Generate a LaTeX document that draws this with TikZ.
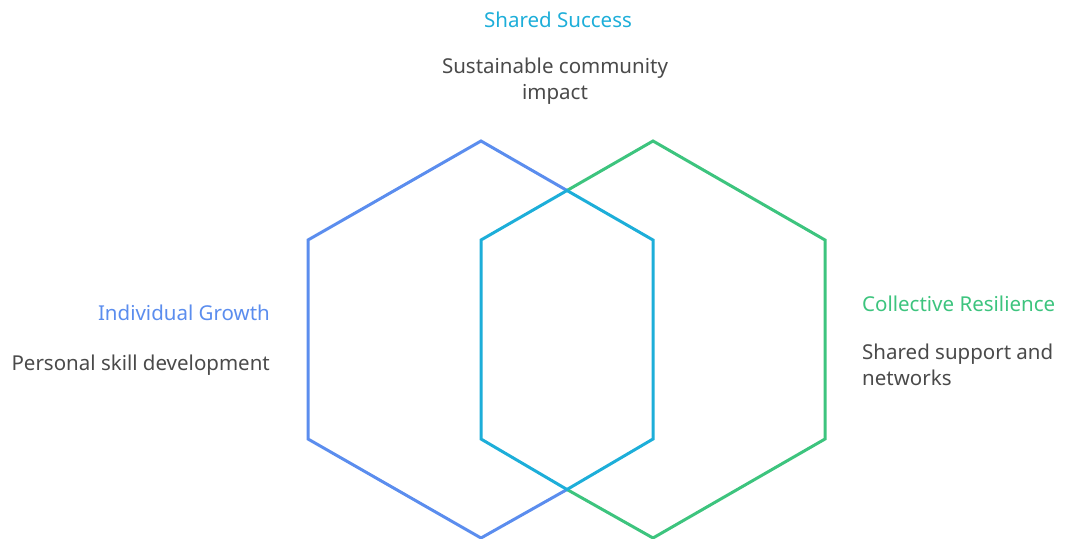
\documentclass[tikz,border=0pt]{standalone}
\usepackage{fontspec}
\setmainfont{Noto Sans}
\definecolor{cblue}{HTML}{5B8DEE}
\definecolor{cgreen}{HTML}{3DC47E}
\definecolor{ccyan}{HTML}{1DAED9}
\definecolor{ctext}{HTML}{4A4A4A}
\tikzset{
  hexline/.style={line width=3pt, line join=miter},
  title/.style={font=\fontsize{20.5}{24}\selectfont, inner sep=0pt},
  body/.style={font=\fontsize{20.5}{26}\selectfont, text=ctext, inner sep=0pt},
}
\begin{document}
\begin{tikzpicture}[x=1pt,y=-1pt]
\useasboundingbox (0,0) rectangle (1065,538);
% left hexagon vertices
\coordinate (LT) at (481,141);
\coordinate (LUL) at (308,240);
\coordinate (LLL) at (308,439);
\coordinate (LB) at (481,538);
% right hexagon vertices
\coordinate (RT) at (653,141);
\coordinate (RUR) at (825,240);
\coordinate (RLR) at (825,439);
\coordinate (RB) at (653,538);
% overlap
\coordinate (XT) at (567,190.5);
\coordinate (XB) at (567,489.5);
\coordinate (OUR) at (653,240);
\coordinate (OLR) at (653,439);
\coordinate (OLL) at (481,439);
\coordinate (OUL) at (481,240);
\draw[hexline, cblue] (XT) -- (LT) -- (LUL) -- (LLL) -- (LB) -- (XB);
\draw[hexline, cgreen] (XT) -- (RT) -- (RUR) -- (RLR) -- (RB) -- (XB);
\draw[hexline, ccyan] (XT) -- (OUR) -- (OLR) -- (XB) -- (OLL) -- (OUL) -- cycle;
% texts
\node[title, text=ccyan] (sst) at (558,20) {Shared Success};
\node[body, align=center] (ssb) at (555,81) {Sustainable community\\impact};
\node[title, text=cblue, anchor=east] (igt) at (270,313) {Individual Growth};
\node[body, anchor=east] (igb) at (270,365) {Personal skill development};
\node[title, text=cgreen, anchor=west] (crt) at (862,304) {Collective Resilience};
\node[body, align=left, anchor=west] (crb) at (862,365) {Shared support and\\networks};
\end{tikzpicture}
\end{document}
